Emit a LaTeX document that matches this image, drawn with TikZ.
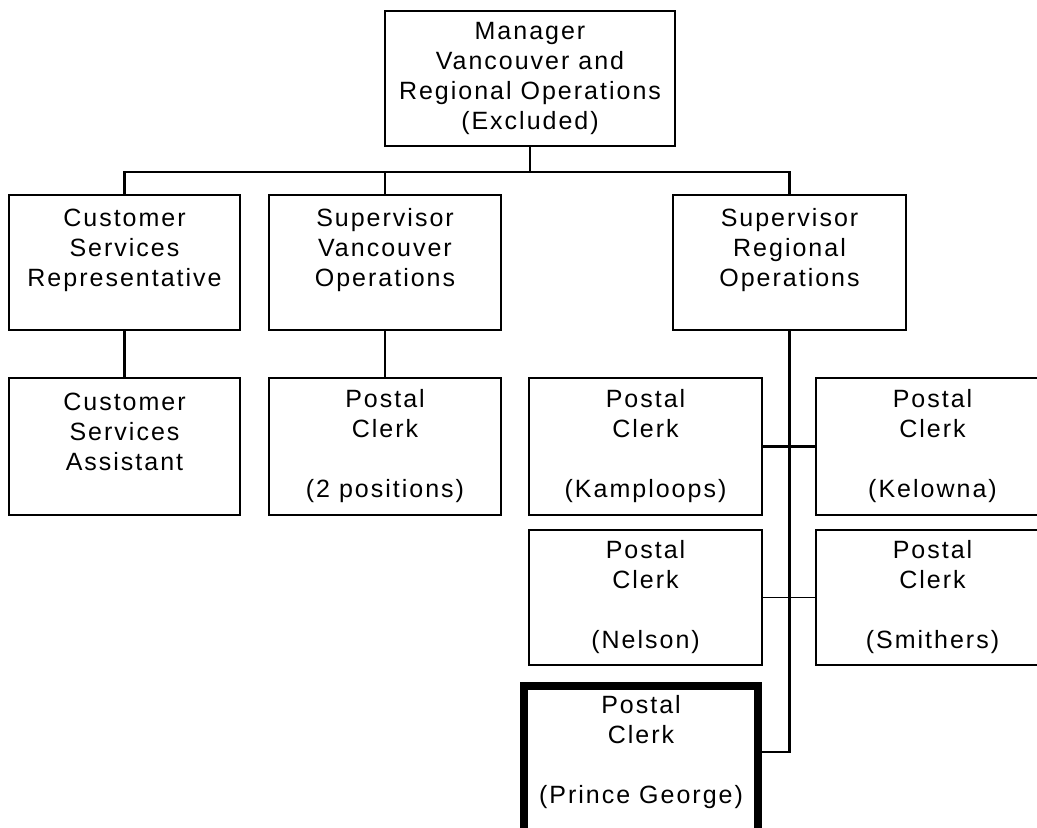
\documentclass[tikz,border=0pt]{standalone}
\usepackage{fontspec}
\newfontfamily\orgfont{Liberation Sans}[LetterSpace=8]
\usetikzlibrary{positioning}

\begin{document}
\begin{tikzpicture}[
    x=0.5pt, y=-0.5pt,
    every node/.style = {
      shape=rectangle,
      inner sep=0pt,
      align=center,
      font=\orgfont\fontsize{12.5}{15}\selectfont
    },
    post/.style = {
      draw,
      line width=1.1pt,
      minimum width=116pt,
      minimum height=67.5pt
    },
    tall/.style = {post, minimum height=68.5pt},
    link/.style = {line width=1.1pt},
    thinlink/.style = {line width=0.5pt},
    pgframe/.style = {line width=4pt}
  ]
  \useasboundingbox (0,0) rectangle (1037,827);

  \node[post, minimum width=145pt] (mgr) at (530,78.5)
    {Manager\\Vancouver and\\Regional Operations\\(Excluded)};

  \node[post, minimum width=115.5pt] (csr) at (124.5,262.5)
    {Customer\\Services\\Representative\\\mbox{}};
  \node[post] (svo) at (385,262.5)
    {Supervisor\\Vancouver\\Operations\\\mbox{}};
  \node[post, minimum width=116.5pt] (sro) at (789.5,262.5)
    {Supervisor\\Regional\\Operations\\\mbox{}};

  \node[tall, minimum width=115.5pt] (csa) at (124.5,446.5)
    {Customer\\Services\\Assistant\\\mbox{}};
  \node[tall] (pc2) at (385,446.5)
    {Postal\\Clerk\\[15pt](2 positions)};
  \node[tall, minimum width=116.5pt] (kam) at (645.5,446.5)
    {Postal\\Clerk\\[15pt](Kamploops)};
  \node[tall, minimum width=116.5pt] (kel) at (932.5,446.5)
    {Postal\\Clerk\\[15pt](Kelowna)};
  \node[post, minimum width=116.5pt] (nel) at (645.5,597.5)
    {Postal\\Clerk\\[15pt](Nelson)};
  \node[post, minimum width=116.5pt] (smi) at (932.5,597.5)
    {Postal\\Clerk\\[15pt](Smithers)};
  \node[minimum width=117pt, minimum height=66pt] (pg) at (641,752)
    {Postal\\Clerk\\[15pt](Prince George)};
  \draw[pgframe] ([yshift=-20pt]pg.south west) -- (pg.north west)
    -- (pg.north east) -- ([yshift=-20pt]pg.south east);

  \coordinate (bus) at (530,172);
  \draw[link] (mgr.south) -- (bus);
  \draw[link] (csr.north) |- (bus) -| (sro.north);
  \draw[link] (svo.north) -- (svo.north |- bus);
  \draw[link] (csr.south) -- (csa.north);
  \draw[link] (svo.south) -- (pc2.north);
  \draw[link] (sro.south) |- (pg.east);
  \draw[link] (kam.east) -- (kel.west);
  \draw[thinlink] (nel.east) -- (smi.west);
\end{tikzpicture}
\end{document}
